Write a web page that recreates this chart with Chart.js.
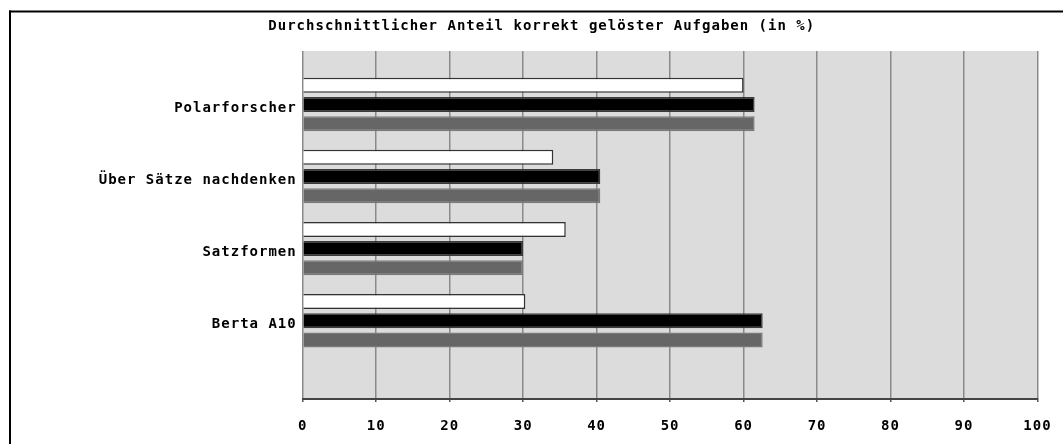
<!DOCTYPE html>
<html><head><meta charset="utf-8">
<script src="https://cdn.jsdelivr.net/npm/chart.js@4.4.1/dist/chart.umd.min.js"></script>
<style>html,body{margin:0;padding:0;background:#fff;overflow:hidden}#wrap{width:1063px;height:444px;position:relative;overflow:hidden}</style>
</head><body><div id="wrap"><canvas id="c" width="1063" height="444"></canvas></div>
<script>
const categories = ['Polarforscher', 'Über Sätze nachdenken', 'Satzformen', 'Berta A10'];
const seriesWhite = [60.0, 34.1, 35.8, 30.3];
const seriesBlack = [61.5, 40.5, 30.0, 62.6];
const seriesGray = [61.5, 40.5, 30.0, 62.6];
const xTickValues = [0, 10, 20, 30, 40, 50, 60, 70, 80, 90, 100];
const titleText = 'Durchschnittlicher Anteil korrekt gelöster Aufgaben (in %)';

const FONT = {family: '"DejaVu Sans Mono", "Liberation Mono", monospace', size: 14, weight: 'bold'};
const SPACING = '1px';

function toPoints(arr) { return arr.map((v, i) => ({x: v, y: i})); }

const spacingPlugin = {
  id: 'spacing',
  beforeUpdate(chart) { chart.ctx.letterSpacing = SPACING; },
  beforeLayout(chart) { chart.ctx.letterSpacing = SPACING; },
  beforeDraw(chart) { chart.ctx.letterSpacing = SPACING; }
};
const bgPlugin = {
  id: 'bg',
  beforeDraw(chart) {
    const {ctx, chartArea: a} = chart;
    ctx.save();
    ctx.fillStyle = '#dcdcdc';
    ctx.fillRect(a.left, a.top, a.right - a.left, a.bottom - a.top);
    ctx.fillStyle = '#000';
    ctx.fillRect(9, 10.5, chart.width - 9, 2);
    ctx.fillRect(9, 10.5, 2, chart.height - 10.5);
    ctx.restore();
  }
};

new Chart(document.getElementById('c'), {
  type: 'bar',
  data: {
    datasets: [
      {label: 'A', data: toPoints(seriesWhite), backgroundColor: '#ffffff', borderColor: '#333333', borderWidth: 1.5},
      {label: 'B', data: toPoints(seriesBlack), backgroundColor: '#000000', borderColor: '#3a3a3a', borderWidth: 1.5},
      {label: 'C', data: toPoints(seriesGray), backgroundColor: '#666666', borderColor: '#7a7a7a', borderWidth: 1.5}
    ]
  },
  options: {
    indexAxis: 'y',
    responsive: false,
    animation: false,
    devicePixelRatio: 1,
    categoryPercentage: 0.80,
    barPercentage: 0.78,
    layout: {padding: {left: 46, right: 25.5, top: 0, bottom: 0}},
    plugins: {
      legend: {display: false},
      tooltip: {enabled: false},
      title: {display: true, text: titleText, color: '#000', font: FONT, padding: {top: 18, bottom: 16.2}}
    },
    scales: {
      x: {
        type: 'linear', position: 'bottom', min: 0, max: 100,
        afterBuildTicks(scale) { scale.ticks = xTickValues.map(v => ({value: v})); },
        afterFit(scale) { scale.height = 45; scale.paddingRight = 0; scale.paddingLeft = 0; },
        grid: {color: '#8a8a8a', lineWidth: 1.5, drawTicks: true, tickLength: 3, tickColor: '#555'},
        border: {display: true, color: '#444', width: 2},
        ticks: {color: '#000', font: FONT, padding: 16, maxRotation: 0}
      },
      y: {
        type: 'linear', reverse: true, offset: false, min: -0.742, max: 4.087,
        afterBuildTicks(scale) { scale.ticks = categories.map((c, i) => ({value: i})); },
        afterFit(scale) { scale.width = 256.7; },
        grid: {display: false, drawTicks: false},
        border: {display: false},
        ticks: {color: '#000', font: FONT, padding: 6, labelOffset: 4, autoSkip: false,
          callback: (v) => categories[v]}
      }
    }
  },
  plugins: [spacingPlugin, bgPlugin]
});
</script></body></html>
